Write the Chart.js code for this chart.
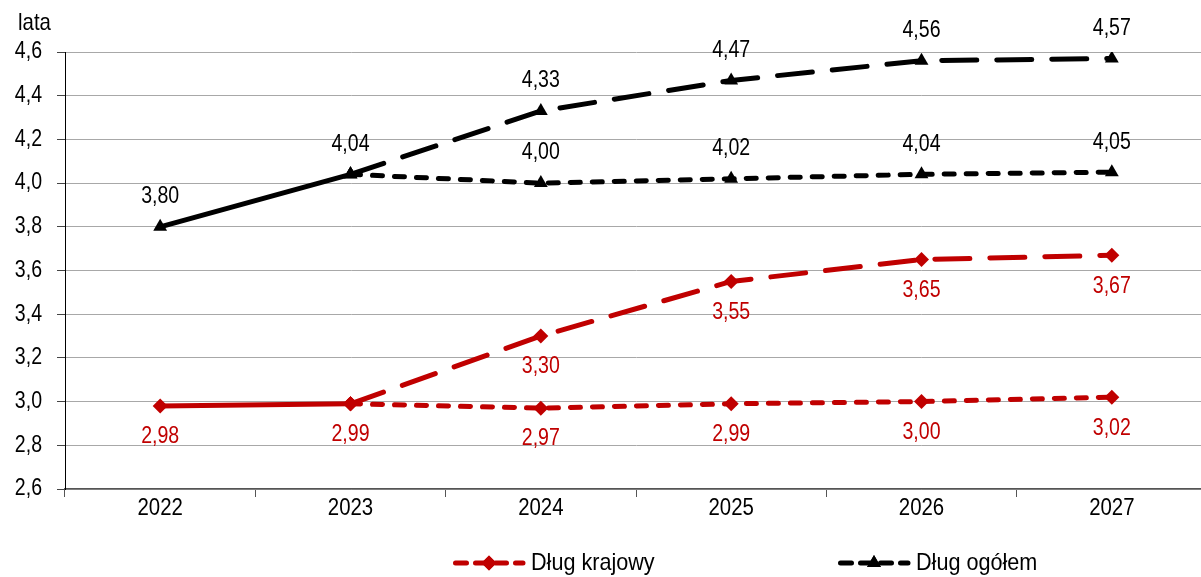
<!DOCTYPE html>
<html lang="pl">
<head>
<meta charset="utf-8">
<title>Średni okres do wykupu długu</title>
<script src="https://cdn.jsdelivr.net/npm/chart.js@4/dist/chart.umd.min.js"></script>
<style>
  html, body { margin: 0; padding: 0; background: #fff; overflow: hidden; }
  #wrap { width: 1201px; height: 577px; overflow: hidden; }
  #chart { display: block; }
</style>
</head>
<body>
<div id="wrap"><canvas id="chart" width="1208" height="577"></canvas></div>
<script>
// Years on the horizontal axis
const years = ['2022', '2023', '2024', '2025', '2026', '2027'];

// Dług krajowy: actual segment and the two projection paths
const krajowyHist = [2.98, 2.99, null, null, null, null];
const krajowyWar1 = [null, 2.99, 3.30, 3.55, 3.65, 3.67];
const krajowyWar2 = [null, 2.99, 2.97, 2.99, 3.00, 3.02];

// Dług ogółem: actual segment and the two projection paths
const ogolemHist = [3.80, 4.04, null, null, null, null];
const ogolemWar1 = [null, 4.04, 4.33, 4.47, 4.56, 4.57];
const ogolemWar2 = [null, 4.04, 4.00, 4.02, 4.04, 4.05];

// Value axis range
const yMin = 2.6;
const yMax = 4.6;
const yStep = 0.2;

const legendNames = ['Dług krajowy', 'Dług ogółem'];
const unitLabel = 'lata';

const RED = '#C00000';
const BLACK = '#000000';
const FONT = '"Liberation Sans", Arial, sans-serif';
const NARROW = 0.85;          // horizontal squeeze giving a narrow face
const LONG_DASH = [35, 20];
const SHORT_DASH = [10, 12];

const fmt = v => v.toFixed(2).replace('.', ',');
const fmtTick = v => v.toFixed(1).replace('.', ',');

// Draw condensed text at (x, y)
function narrowText(ctx, text, x, y, size, color, align, squeeze) {
  ctx.save();
  ctx.translate(x, y);
  ctx.scale(squeeze || NARROW, 1);
  ctx.font = size + 'px ' + FONT;
  ctx.fillStyle = color;
  ctx.textAlign = align;
  ctx.textBaseline = 'middle';
  ctx.fillText(text, 0, 0);
  ctx.restore();
}

function series(data, color, dash, point, side, firstLabel) {
  return {
    data: data,
    borderColor: color,
    backgroundColor: color,
    borderWidth: 5,
    borderDash: dash,
    borderCapStyle: dash.length ? 'round' : 'butt',
    borderJoinStyle: 'round',
    pointStyle: point,
    pointRadius: point === 'triangle' ? 8 : 7.5,
    pointBorderWidth: 0,
    pointBackgroundColor: color,
    tension: 0,
    spanGaps: false,
    labelSide: side,
    labelFrom: firstLabel
  };
}

// Axis tick labels, placed through the scales
const axisLabels = {
  id: 'axisLabels',
  afterDraw(chart) {
    const ctx = chart.ctx;
    const xs = chart.scales.x;
    const ys = chart.scales.y;
    years.forEach((yr, i) => {
      narrowText(ctx, yr, xs.getPixelForValue(i), 508, 24, '#000', 'center');
    });
    for (let v = yMin; v <= yMax + 1e-9; v += yStep) {
      narrowText(ctx, fmtTick(v), 42, ys.getPixelForValue(v), 23, '#000', 'right');
    }
    narrowText(ctx, unitLabel, 18, 23, 24, '#000', 'left');
  }
};

// Value labels drawn next to the markers
const valueLabels = {
  id: 'valueLabels',
  afterDatasetsDraw(chart) {
    const ctx = chart.ctx;
    chart.data.datasets.forEach((ds, i) => {
      const meta = chart.getDatasetMeta(i);
      ds.data.forEach((v, j) => {
        if (v === null || j < ds.labelFrom) return;
        const pt = meta.data[j];
        const dy = ds.labelSide === 'above' ? -30 : 31;
        narrowText(ctx, fmt(v), pt.x, pt.y + dy, 23, ds.borderColor, 'center');
      });
    });
  }
};

// Legend below the plot
const legendRow = {
  id: 'legendRow',
  afterDraw(chart) {
    const ctx = chart.ctx;
    const items = [
      { text: legendNames[0], color: RED, marker: 'rectRot', x: 453 },
      { text: legendNames[1], color: BLACK, marker: 'triangle', x: 838 }
    ];
    const y = 563;
    items.forEach(it => {
      ctx.save();
      ctx.strokeStyle = it.color;
      ctx.lineWidth = 5;
      ctx.lineCap = 'round';
      ctx.setLineDash([11, 9]);
      ctx.beginPath();
      ctx.moveTo(it.x + 2.5, y);
      ctx.lineTo(it.x + 70, y);
      ctx.stroke();
      ctx.setLineDash([]);
      ctx.fillStyle = it.color;
      ctx.beginPath();
      Chart.helpers.drawPoint(ctx, {
        pointStyle: it.marker,
        radius: it.marker === 'triangle' ? 8 : 7.5,
        borderWidth: 0
      }, it.x + 36, y);
      ctx.fill();
      ctx.restore();
      narrowText(ctx, it.text, it.x + 78, y, 24, '#000', 'left', 0.9);
    });
  }
};

new Chart(document.getElementById('chart'), {
  type: 'line',
  data: {
    labels: years,
    datasets: [
      series(krajowyWar2, RED, SHORT_DASH, 'rectRot', 'below', 2),
      series(krajowyWar1, RED, LONG_DASH, 'rectRot', 'below', 2),
      series(krajowyHist, RED, [], 'rectRot', 'below', 0),
      series(ogolemWar2, BLACK, SHORT_DASH, 'triangle', 'above', 2),
      series(ogolemWar1, BLACK, LONG_DASH, 'triangle', 'above', 2),
      series(ogolemHist, BLACK, [], 'triangle', 'above', 0)
    ]
  },
  options: {
    responsive: false,
    animation: false,
    events: [],
    layout: { autoPadding: false, padding: { top: 52, right: 1, bottom: 48, left: 0 } },
    plugins: {
      legend: { display: false },
      tooltip: { enabled: false },
      title: { display: false }
    },
    scales: {
      x: {
        offset: true,
        grid: {
          offset: true,
          drawOnChartArea: false,
          drawTicks: true,
          tickLength: 8,
          tickColor: '#555',
          tickWidth: 1
        },
        border: { display: true, color: '#555', width: 1.5 },
        ticks: { display: false },
        afterFit(scale) {
          scale.height = 40;
          scale.paddingLeft = 0;
          scale.paddingRight = 0;
        }
      },
      y: {
        min: yMin,
        max: yMax,
        grid: {
          color: '#a8a8a8',
          lineWidth: 1,
          borderDash: [2, 2],
          tickBorderDash: [],
          tickColor: '#444',
          tickLength: 8
        },
        border: { display: true, color: '#000', width: 1 },
        ticks: { display: false, stepSize: yStep },
        afterFit(scale) {
          scale.width = 65;
          scale.paddingTop = 0;
          scale.paddingBottom = 0;
        }
      }
    }
  },
  plugins: [valueLabels, axisLabels, legendRow]
});
</script>
</body>
</html>
